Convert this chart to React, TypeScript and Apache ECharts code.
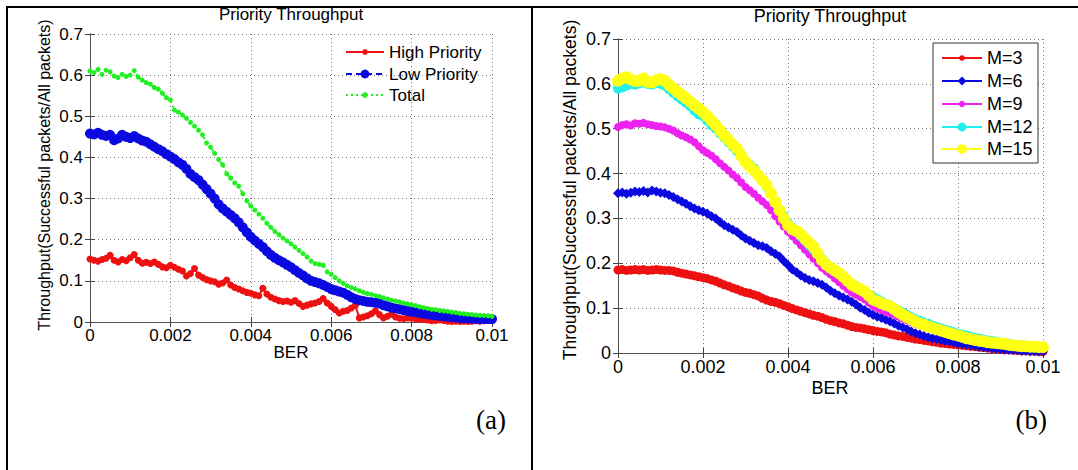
import React, { useEffect, useRef } from "react";
import * as echarts from "echarts";

// BER sample spacing shared by every curve (0 … 0.01)
const BER_STEP = 0.0001;

// Panel (a): throughput by priority class
const highPriority = [
  0.153, 0.150, 0.148, 0.152, 0.155, 0.162, 0.150, 0.146, 0.152, 0.149, 0.156,
  0.164, 0.150, 0.143, 0.145, 0.142, 0.146, 0.140, 0.134, 0.132, 0.138,
  0.133, 0.128, 0.124, 0.112, 0.118, 0.130, 0.114, 0.108, 0.103, 0.100,
  0.098, 0.092, 0.095, 0.102, 0.090, 0.084, 0.080, 0.076, 0.072, 0.070,
  0.066, 0.064, 0.082, 0.068, 0.060, 0.056, 0.052, 0.050, 0.051, 0.048,
  0.052, 0.045, 0.038, 0.041, 0.044, 0.046, 0.050, 0.057, 0.046, 0.038,
  0.030, 0.022, 0.026, 0.028, 0.034, 0.040, 0.010, 0.012, 0.015, 0.020,
  0.027, 0.018, 0.010, 0.014, 0.019, 0.012, 0.009, 0.008, 0.010, 0.009,
  0.008, 0.006, 0.007, 0.005, 0.003, 0.004, 0.005, 0.004, 0.002, 0.001,
  0.002, 0.001, 0.002, 0.001, 0.002, 0.003, 0.002, 0.003, 0.004, 0.004,
];
const lowPriority = [
  0.458, 0.456, 0.460, 0.455, 0.452, 0.455, 0.442, 0.446, 0.455, 0.450, 0.447,
  0.452, 0.446, 0.441, 0.438, 0.432, 0.426, 0.420, 0.415, 0.408, 0.402,
  0.396, 0.388, 0.382, 0.372, 0.360, 0.352, 0.345, 0.334, 0.323, 0.312,
  0.300, 0.286, 0.276, 0.268, 0.260, 0.252, 0.242, 0.230, 0.218, 0.207,
  0.198, 0.190, 0.182, 0.172, 0.163, 0.156, 0.150, 0.145, 0.139, 0.133,
  0.126, 0.119, 0.113, 0.106, 0.100, 0.097, 0.094, 0.090, 0.085, 0.080,
  0.077, 0.074, 0.071, 0.066, 0.060, 0.056, 0.053, 0.051, 0.049, 0.048,
  0.047, 0.045, 0.041, 0.038, 0.035, 0.033, 0.031, 0.029, 0.027, 0.025,
  0.024, 0.022, 0.020, 0.019, 0.017, 0.016, 0.015, 0.014, 0.013, 0.012,
  0.011, 0.010, 0.009, 0.009, 0.008, 0.008, 0.007, 0.007, 0.007, 0.007,
];
const totalThroughput = [
  0.610, 0.606, 0.614, 0.602, 0.612, 0.608, 0.598, 0.594, 0.602, 0.597, 0.600,
  0.611, 0.595, 0.588, 0.582, 0.578, 0.570, 0.566, 0.556, 0.545, 0.540,
  0.515, 0.510, 0.503, 0.495, 0.485, 0.476, 0.466, 0.455, 0.435, 0.425,
  0.410, 0.395, 0.382, 0.360, 0.350, 0.338, 0.330, 0.312, 0.295, 0.282,
  0.272, 0.262, 0.252, 0.240, 0.230, 0.220, 0.212, 0.204, 0.197, 0.190,
  0.182, 0.174, 0.166, 0.158, 0.148, 0.142, 0.140, 0.138, 0.122, 0.116,
  0.108, 0.100, 0.094, 0.088, 0.084, 0.080, 0.076, 0.072, 0.069, 0.067,
  0.064, 0.062, 0.059, 0.056, 0.053, 0.051, 0.049, 0.046, 0.044, 0.042,
  0.040, 0.037, 0.035, 0.033, 0.031, 0.030, 0.028, 0.027, 0.026, 0.024,
  0.023, 0.021, 0.020, 0.019, 0.018, 0.017, 0.016, 0.016, 0.015, 0.014,
];

// Panel (b): throughput for different M
const m3 = [
  0.185, 0.186, 0.184, 0.185, 0.186, 0.185, 0.186, 0.184, 0.185, 0.186, 0.185,
  0.184, 0.184, 0.183, 0.180, 0.178, 0.176, 0.174, 0.172, 0.170, 0.168,
  0.166, 0.163, 0.160, 0.156, 0.152, 0.149, 0.145, 0.142, 0.138, 0.135,
  0.133, 0.130, 0.127, 0.122, 0.118, 0.115, 0.113, 0.110, 0.106, 0.103,
  0.099, 0.096, 0.093, 0.090, 0.087, 0.084, 0.082, 0.079, 0.075, 0.072,
  0.070, 0.067, 0.065, 0.062, 0.059, 0.057, 0.056, 0.054, 0.052, 0.050,
  0.048, 0.047, 0.045, 0.042, 0.040, 0.038, 0.037, 0.035, 0.033, 0.031,
  0.030, 0.028, 0.027, 0.025, 0.024, 0.022, 0.021, 0.020, 0.019, 0.018,
  0.017, 0.016, 0.015, 0.014, 0.013, 0.012, 0.011, 0.010, 0.009, 0.008,
  0.007, 0.007, 0.006, 0.006, 0.005, 0.005, 0.004, 0.004, 0.003, 0.003,
];
const m6 = [
  0.356, 0.358, 0.355, 0.357, 0.360, 0.359, 0.361, 0.358, 0.362, 0.360, 0.357,
  0.356, 0.352, 0.348, 0.343, 0.338, 0.333, 0.327, 0.322, 0.318, 0.315,
  0.311, 0.305, 0.300, 0.292, 0.285, 0.280, 0.275, 0.270, 0.262, 0.255,
  0.250, 0.245, 0.240, 0.238, 0.234, 0.227, 0.221, 0.215, 0.205, 0.196,
  0.186, 0.180, 0.173, 0.167, 0.163, 0.160, 0.156, 0.152, 0.146, 0.139,
  0.133, 0.128, 0.124, 0.119, 0.114, 0.108, 0.101, 0.096, 0.090, 0.085,
  0.081, 0.078, 0.074, 0.070, 0.066, 0.061, 0.057, 0.053, 0.048, 0.044,
  0.041, 0.038, 0.035, 0.033, 0.031, 0.029, 0.027, 0.026, 0.024, 0.022,
  0.020, 0.019, 0.017, 0.016, 0.014, 0.013, 0.012, 0.011, 0.010, 0.009,
  0.008, 0.007, 0.007, 0.006, 0.005, 0.005, 0.004, 0.004, 0.004, 0.004,
];
const m9 = [
  0.504, 0.508, 0.510, 0.507, 0.512, 0.511, 0.513, 0.510, 0.508, 0.506, 0.505,
  0.503, 0.500, 0.496, 0.490, 0.485, 0.481, 0.476, 0.470, 0.461, 0.452,
  0.446, 0.440, 0.432, 0.423, 0.415, 0.407, 0.398, 0.390, 0.380, 0.370,
  0.363, 0.355, 0.346, 0.338, 0.330, 0.318, 0.305, 0.293, 0.282, 0.270,
  0.260, 0.250, 0.240, 0.230, 0.220, 0.210, 0.200, 0.190, 0.182, 0.175,
  0.166, 0.158, 0.150, 0.142, 0.135, 0.130, 0.125, 0.120, 0.112, 0.105,
  0.100, 0.096, 0.092, 0.089, 0.085, 0.081, 0.077, 0.073, 0.069, 0.065,
  0.062, 0.059, 0.056, 0.053, 0.050, 0.047, 0.045, 0.042, 0.040, 0.038,
  0.036, 0.034, 0.032, 0.030, 0.028, 0.026, 0.025, 0.023, 0.022, 0.020,
  0.019, 0.017, 0.016, 0.015, 0.013, 0.012, 0.012, 0.011, 0.010, 0.010,
];
const m12 = [
  0.589, 0.592, 0.596, 0.600, 0.598, 0.601, 0.603, 0.600, 0.598, 0.602, 0.600,
  0.596, 0.588, 0.580, 0.572, 0.565, 0.558, 0.550, 0.540, 0.532, 0.528,
  0.518, 0.508, 0.500, 0.490, 0.480, 0.470, 0.460, 0.450, 0.438, 0.425,
  0.420, 0.412, 0.398, 0.385, 0.370, 0.355, 0.338, 0.320, 0.305, 0.290,
  0.280, 0.270, 0.260, 0.250, 0.240, 0.230, 0.220, 0.210, 0.200, 0.190,
  0.183, 0.176, 0.169, 0.162, 0.155, 0.150, 0.143, 0.137, 0.131, 0.125,
  0.120, 0.115, 0.110, 0.106, 0.100, 0.095, 0.090, 0.085, 0.080, 0.075,
  0.072, 0.068, 0.065, 0.061, 0.058, 0.055, 0.052, 0.049, 0.046, 0.043,
  0.041, 0.039, 0.036, 0.034, 0.032, 0.030, 0.028, 0.027, 0.025, 0.023,
  0.022, 0.021, 0.019, 0.018, 0.017, 0.016, 0.015, 0.014, 0.014, 0.013,
];
const m15 = [
  0.607, 0.612, 0.615, 0.610, 0.606, 0.607, 0.612, 0.604, 0.603, 0.608, 0.610,
  0.607, 0.598, 0.590, 0.582, 0.575, 0.568, 0.560, 0.552, 0.545, 0.537,
  0.528, 0.518, 0.508, 0.496, 0.485, 0.475, 0.465, 0.456, 0.440, 0.426,
  0.416, 0.407, 0.396, 0.385, 0.374, 0.356, 0.337, 0.318, 0.300, 0.285,
  0.276, 0.272, 0.265, 0.255, 0.246, 0.237, 0.222, 0.207, 0.197, 0.190,
  0.184, 0.178, 0.170, 0.161, 0.152, 0.147, 0.142, 0.137, 0.128, 0.119,
  0.115, 0.111, 0.107, 0.104, 0.098, 0.091, 0.085, 0.080, 0.075, 0.070,
  0.066, 0.063, 0.059, 0.056, 0.053, 0.050, 0.047, 0.044, 0.041, 0.039,
  0.036, 0.033, 0.031, 0.029, 0.027, 0.026, 0.024, 0.023, 0.022, 0.021,
  0.020, 0.018, 0.017, 0.016, 0.015, 0.015, 0.014, 0.014, 0.013, 0.013,
];

const FONT = "'Liberation Sans', Arial, sans-serif";
const SERIF = "'Liberation Serif', 'Times New Roman', serif";

const toPoints = (vals: number[]) =>
  vals.map((v, i) => [+(i * BER_STEP).toFixed(4), v]);

const fmtTick = (v: number) => String(+v.toFixed(4));

function axesFor(gridIndex: number, fontSize: number) {
  const tickStyle = { show: true, inside: true, length: 5, lineStyle: { color: "#444", width: 1 } };
  const lineStyle = { show: true, lineStyle: { color: "#555", width: 1 } };
  const split = { show: true, lineStyle: { color: "#777", width: 1, type: [1, 3] as any } };
  const label = { color: "#000", fontSize, fontFamily: FONT };
  const xBottom = {
    type: "value", gridIndex, min: 0, max: 0.01, interval: 0.002, position: "bottom",
    axisLine: lineStyle, axisTick: tickStyle, splitLine: split,
    axisLabel: { ...label, margin: 5, formatter: fmtTick },
  };
  const xTop = {
    type: "value", gridIndex, min: 0, max: 0.01, interval: 0.002, position: "top",
    axisLine: lineStyle, axisTick: tickStyle, splitLine: { show: false }, axisLabel: { show: false },
  };
  const yLeft = {
    type: "value", gridIndex, min: 0, max: 0.7, interval: 0.1, position: "left",
    axisLine: lineStyle, axisTick: tickStyle, splitLine: split,
    axisLabel: { ...label, margin: 7, formatter: fmtTick },
  };
  const yRight = {
    type: "value", gridIndex, min: 0, max: 0.7, interval: 0.1, position: "right",
    axisLine: lineStyle, axisTick: tickStyle, splitLine: { show: false }, axisLabel: { show: false },
  };
  return { x: [xBottom, xTop], y: [yLeft, yRight] };
}

function lineSeries(
  name: string,
  vals: number[],
  axisIndex: number,
  color: string,
  symbol: string,
  symbolSize: number,
  lineType: any,
  width: number
) {
  return {
    name,
    type: "line",
    xAxisIndex: axisIndex,
    yAxisIndex: axisIndex,
    data: toPoints(vals),
    symbol,
    symbolSize,
    showAllSymbol: true,
    itemStyle: { color },
    lineStyle: { color, width, type: lineType },
    emphasis: { disabled: true },
  };
}

// One legend entry; its marker size follows iconH (ECharts draws it at 80 %)
function legendEntry(name: string, left: number, centerY: number, iconW: number, iconH: number, fontSize: number) {
  const rowH = Math.max(iconH, fontSize);
  return {
    data: [name],
    left,
    top: centerY - rowH / 2,
    padding: 0,
    itemWidth: iconW,
    itemHeight: iconH,
    selectedMode: false,
    z: 6,
    textStyle: { color: "#000", fontSize, fontFamily: FONT, lineHeight: fontSize },
  };
}

export default function App() {
  const ref = useRef<HTMLDivElement>(null);

  useEffect(() => {
    if (!ref.current) return;
    const chart = echarts.init(ref.current, undefined, { renderer: "svg" });

    const a = axesFor(0, 17);
    const b = axesFor(1, 18);

    const yName = "Throughput(Successful packets/All packets)";

    chart.setOption({
      animation: false,
      backgroundColor: "#fff",
      grid: [
        { left: 90, top: 34, width: 402, height: 288, show: false },
        { left: 618, top: 39, width: 425, height: 314, show: false },
      ],
      // axis order: 0/1 panel (a) main + mirror, 2/3 panel (b) main + mirror
      xAxis: [a.x[0], b.x[0], a.x[1], b.x[1]],
      yAxis: [a.y[0], b.y[0], a.y[1], b.y[1]],
      legend: [
        legendEntry("High Priority", 345, 52, 38, 7, 17),
        legendEntry("Low Priority", 345, 74, 38, 11, 17),
        legendEntry("Total", 345, 95, 38, 7, 17),
        legendEntry("M=3", 941, 58, 40, 7, 18),
        legendEntry("M=6", 941, 81, 40, 11, 18),
        legendEntry("M=9", 941, 104, 40, 8, 18),
        legendEntry("M=12", 941, 127, 40, 11, 18),
        legendEntry("M=15", 941, 149, 40, 12, 18),
      ],
      series: [
        lineSeries("High Priority", highPriority, 0, "#ee1111", "circle", 7, "solid", 2),
        lineSeries("Low Priority", lowPriority, 0, "#0a0ae0", "circle", 10, [6, 4], 2),
        lineSeries("Total", totalThroughput, 0, "#22ee22", "circle", 5, [2, 3], 2),
        lineSeries("M=3", m3, 1, "#ee1111", "circle", 9, "solid", 2),
        lineSeries("M=6", m6, 1, "#0a0ae0", "diamond", 10, "solid", 2),
        lineSeries("M=9", m9, 1, "#ee22ee", "circle", 8, "solid", 2),
        lineSeries("M=12", m12, 1, "#22eeee", "circle", 10, "solid", 2),
        lineSeries("M=15", m15, 1, "#ffff11", "circle", 12, "solid", 2),
      ],
      graphic: [
        // table frame around the two panels
        { type: "line", shape: { x1: 6, y1: 7, x2: 1078, y2: 7 }, style: { stroke: "#000", lineWidth: 2 } },
        { type: "line", shape: { x1: 7, y1: 6, x2: 7, y2: 470 }, style: { stroke: "#000", lineWidth: 2 } },
        { type: "line", shape: { x1: 532, y1: 6, x2: 532, y2: 470 }, style: { stroke: "#000", lineWidth: 2 } },
        // boxed legend of panel (b)
        {
          type: "rect", z: 5,
          shape: { x: 933, y: 43, width: 105, height: 120 },
          style: { fill: "#fff", stroke: "#333", lineWidth: 1 },
        },
        // panel (a) texts
        {
          type: "text", x: 291, y: 14,
          style: { text: "Priority Throughput", font: `17px ${FONT}`, fill: "#000", textAlign: "center", textVerticalAlign: "middle" },
        },
        {
          type: "text", x: 44, y: 175, rotation: Math.PI / 2,
          style: { text: yName, font: `16px ${FONT}`, fill: "#000", textAlign: "center", textVerticalAlign: "middle" },
        },
        {
          type: "text", x: 291, y: 352,
          style: { text: "BER", font: `17px ${FONT}`, fill: "#000", textAlign: "center", textVerticalAlign: "middle" },
        },
        {
          type: "text", x: 506, y: 420,
          style: { text: "(a)", font: `27px ${SERIF}`, fill: "#000", textAlign: "right", textVerticalAlign: "middle" },
        },
        // panel (b) texts
        {
          type: "text", x: 830, y: 16,
          style: { text: "Priority Throughput", font: `18px ${FONT}`, fill: "#000", textAlign: "center", textVerticalAlign: "middle" },
        },
        {
          type: "text", x: 570, y: 190, rotation: Math.PI / 2,
          style: { text: yName, font: `17.5px ${FONT}`, fill: "#000", textAlign: "center", textVerticalAlign: "middle" },
        },
        {
          type: "text", x: 830, y: 388,
          style: { text: "BER", font: `18px ${FONT}`, fill: "#000", textAlign: "center", textVerticalAlign: "middle" },
        },
        {
          type: "text", x: 1047, y: 420,
          style: { text: "(b)", font: `27px ${SERIF}`, fill: "#000", textAlign: "right", textVerticalAlign: "middle" },
        },
      ],
    });

    return () => chart.dispose();
  }, []);

  return (
    <div
      ref={ref}
      style={{ position: "fixed", left: 0, top: 0, width: 1078, height: 470, background: "#fff" }}
    />
  );
}
